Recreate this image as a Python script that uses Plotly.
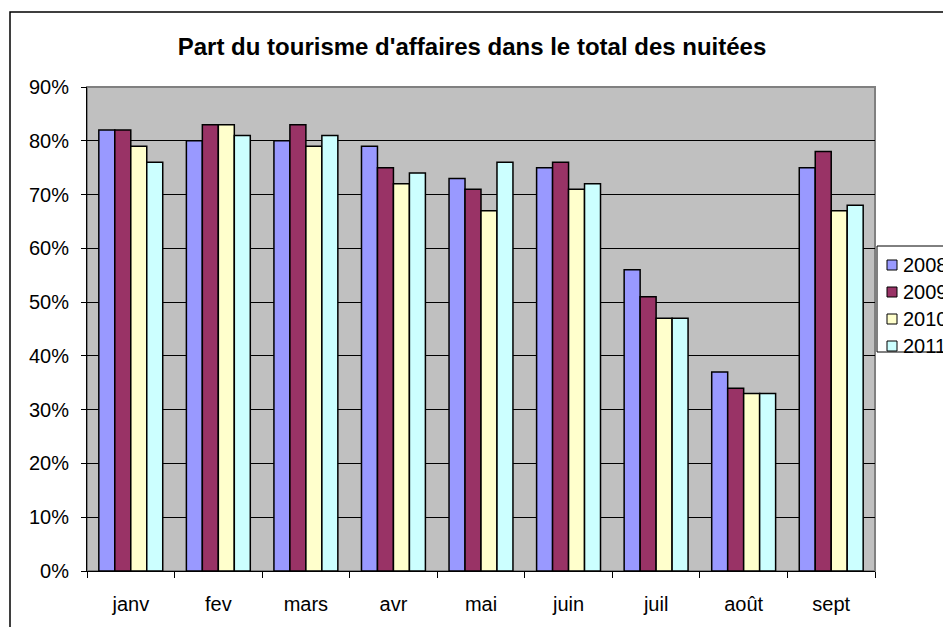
import plotly.graph_objects as go

months = ["janv", "fev", "mars", "avr", "mai", "juin", "juil", "août", "sept"]
years = ["2008", "2009", "2010", "2011"]
v2008 = [0.82, 0.80, 0.80, 0.79, 0.73, 0.75, 0.56, 0.37, 0.75]
v2009 = [0.82, 0.83, 0.83, 0.75, 0.71, 0.76, 0.51, 0.34, 0.78]
v2010 = [0.79, 0.83, 0.79, 0.72, 0.67, 0.71, 0.47, 0.33, 0.67]
v2011 = [0.76, 0.81, 0.81, 0.74, 0.76, 0.72, 0.47, 0.33, 0.68]
colors = ["#9999FF", "#993366", "#FFFFCC", "#CCFFFF"]

series = [v2008, v2009, v2010, v2011]
fig = go.Figure()
for name, vals, col in zip(years, series, colors):
    fig.add_trace(go.Bar(x=months, y=vals, name=name,
                         marker=dict(color=col, line=dict(color="black", width=1.5))))

W, H = 943, 627
L, R, T, B = 87, 875, 87, 571  # plot area in pixel coords


def px(x):
    return (x - L) / (R - L)


def py(y):
    return (B - y) / (B - T)


shapes = [
    dict(type="rect", xref="paper", yref="paper", x0=0, x1=1, y0=0, y1=1,
         line=dict(color="#808080", width=2), layer="below"),
    dict(type="rect", xref="paper", yref="paper", x0=px(10), x1=px(980),
         y0=py(12), y1=py(680), line=dict(color="black", width=1.5)),
    # legend box
    dict(type="rect", xref="paper", yref="paper", x0=px(877), x1=px(990),
         y0=py(352), y1=py(246), fillcolor="white", line=dict(color="black", width=1)),
]
annotations = []
item_y = [265, 292, 319, 346]
for name, col, yc in zip(years, colors, item_y):
    shapes.append(dict(type="rect", xref="paper", yref="paper",
                       x0=px(887), x1=px(897), y0=py(yc + 5), y1=py(yc - 5),
                       fillcolor=col, line=dict(color="black", width=1)))
    annotations.append(dict(text=name, xref="paper", yref="paper", x=px(901), y=py(yc),
                            xanchor="left", yanchor="middle", showarrow=False,
                            font=dict(size=20, color="black")))

fig.update_layout(
    width=W, height=H,
    margin=dict(l=L, r=W - R, t=T, b=H - B, autoexpand=False),
    paper_bgcolor="white", plot_bgcolor="#C0C0C0",
    font=dict(family="Liberation Sans, Arial", size=20, color="black"),
    barmode="group", bargap=0.27, bargroupgap=0,
    title=dict(text="<b>Part du tourisme d'affaires dans le total des nuitées</b>",
               x=472 / W, xanchor="center", y=1 - 47 / H, yanchor="middle",
               font=dict(size=24, color="black")),
    showlegend=False,
    shapes=shapes,
    annotations=annotations,
)
fig.update_yaxes(range=[0, 0.9], dtick=0.1, tickformat=".0%", showgrid=True,
                 gridcolor="black", gridwidth=1, showline=True, linecolor="black",
                 linewidth=1, ticks="outside", ticklen=5, tickcolor="black",
                 zeroline=False, tickfont=dict(size=20), ticklabelstandoff=8)
fig.update_xaxes(showline=True, linecolor="black", linewidth=1, ticks="outside",
                 tickson="boundaries", ticklen=6, tickcolor="black", showgrid=False,
                 tickfont=dict(size=20), ticklabelstandoff=15)

fig.write_html("out.html", config={"displayModeBar": False},
               post_script="document.body.style.margin='0';document.body.style.overflow='hidden';")
